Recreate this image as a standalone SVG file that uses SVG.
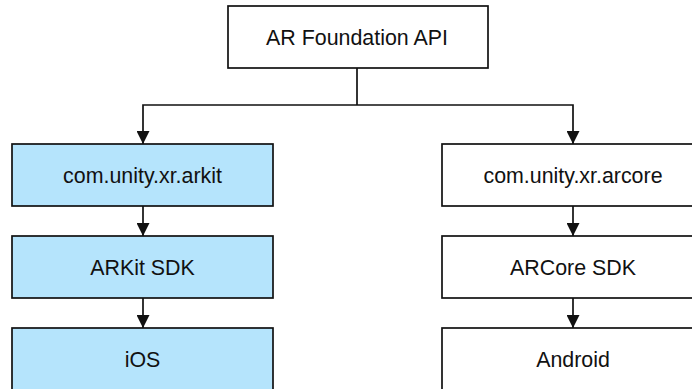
<svg xmlns="http://www.w3.org/2000/svg" width="692" height="389" viewBox="0 0 692 389">
<style>
.box{stroke:#111;stroke-width:1.7}
.blue{fill:#b5e4fc}
.white{fill:#fff}
.lbl{font-family:"Liberation Sans",Arial,sans-serif;font-size:21.4px;fill:#111;text-anchor:middle}
.conn{fill:none;stroke:#111;stroke-width:1.7}
</style>
<defs>
<marker id="ah" viewBox="0 0 13 13" refX="13" refY="6.5" markerWidth="13" markerHeight="13" markerUnits="userSpaceOnUse" orient="auto">
<path d="M0,0 L13,6.5 L0,13 Z" fill="#111"/>
</marker>
</defs>
<rect width="692" height="389" fill="#fff"/>
<g id="connectors">
<path class="conn" d="M357,68 V105"/>
<path class="conn" d="M357,105 H143 V144" marker-end="url(#ah)"/>
<path class="conn" d="M357,105 H573 V144" marker-end="url(#ah)"/>
<path class="conn" d="M143,206 V236" marker-end="url(#ah)"/>
<path class="conn" d="M143,298 V328" marker-end="url(#ah)"/>
<path class="conn" d="M573,206 V236" marker-end="url(#ah)"/>
<path class="conn" d="M573,298 V328" marker-end="url(#ah)"/>
</g>
<g id="ar-foundation">
<rect class="box white" x="228" y="6" width="260" height="62"/>
<text class="lbl" x="357" y="45">AR Foundation API</text>
</g>
<g id="arkit-pkg">
<rect class="box blue" x="12" y="144" width="261" height="62"/>
<text class="lbl" x="142.5" y="182.5">com.unity.xr.arkit</text>
</g>
<g id="arkit-sdk">
<rect class="box blue" x="12" y="236" width="261" height="62"/>
<text class="lbl" x="142.5" y="274.5">ARKit SDK</text>
</g>
<g id="ios">
<rect class="box blue" x="12" y="328" width="261" height="70"/>
<text class="lbl" x="142.5" y="366.5">iOS</text>
</g>
<g id="arcore-pkg">
<rect class="box white" x="442" y="144" width="262" height="62"/>
<text class="lbl" x="573" y="182.5">com.unity.xr.arcore</text>
</g>
<g id="arcore-sdk">
<rect class="box white" x="442" y="236" width="262" height="62"/>
<text class="lbl" x="573" y="274.5">ARCore SDK</text>
</g>
<g id="android">
<rect class="box white" x="442" y="328" width="262" height="70"/>
<text class="lbl" x="573" y="366.5">Android</text>
</g>
</svg>
